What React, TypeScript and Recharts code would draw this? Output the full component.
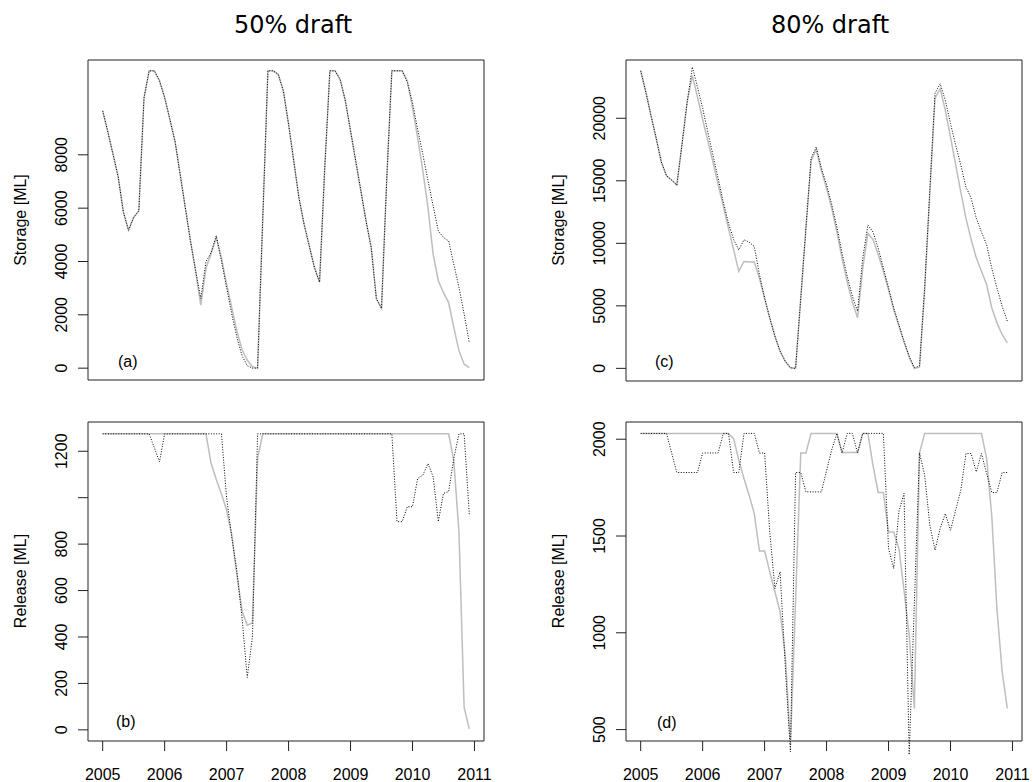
import { LineChart, Line, XAxis, YAxis, ReferenceArea } from 'recharts';

// monthly series, Jan 2005 .. Dec 2010
const START_YEAR = 2005;
const YEAR_TICKS = [2005, 2006, 2007, 2008, 2009, 2010, 2011];

// storage [ML], 50% draft
const STORAGE_50_GREY = [
    9650, 8860, 8020, 7180, 5860, 5170, 5650, 5900, 10130, 11150, 11150, 10780,
    10150, 9340, 8520, 7270, 6020, 4770, 3650, 2360, 3740, 4300, 4900, 4130,
    3150, 2260, 1380, 690, 300, 50, 0, 5600, 11150, 11150, 11020, 10390,
    9150, 7770, 6400, 5400, 4590, 3780, 3220, 7480, 11150, 11150, 10820, 10020,
    8900, 7770, 6650, 5520, 4530, 2610, 2240, 7040, 11150, 11150, 11150, 10780,
    9770, 8640, 7400, 6020, 4270, 3280, 2830, 2460, 1530, 650, 150, 20,
];
const STORAGE_50_DOTTED = [
    9650, 8860, 8020, 7180, 5860, 5170, 5650, 5900, 10130, 11150, 11150, 10780,
    10150, 9340, 8520, 7270, 6020, 4770, 3650, 2610, 3990, 4340, 4960, 4020,
    3020, 2030, 1150, 460, 90, 0, 0, 5600, 11150, 11150, 11020, 10390,
    9150, 7770, 6400, 5400, 4590, 3780, 3220, 7480, 11150, 11150, 10820, 10020,
    8900, 7770, 6650, 5520, 4530, 2610, 2240, 7040, 11150, 11150, 11150, 10710,
    9960, 8950, 8020, 7030, 6080, 5150, 4900, 4770, 3900, 3030, 2030, 960,
];

// release [ML], 50% draft
const RELEASE_50_GREY = [
    1275, 1275, 1275, 1275, 1275, 1275, 1275, 1275, 1275, 1275, 1275, 1275,
    1275, 1275, 1275, 1275, 1275, 1275, 1275, 1275, 1275, 1147, 1078, 1016,
    947, 840, 669, 511, 451, 461, 1169, 1275, 1275, 1275, 1275, 1275,
    1275, 1275, 1275, 1275, 1275, 1275, 1275, 1275, 1275, 1275, 1275, 1275,
    1275, 1275, 1275, 1275, 1275, 1275, 1275, 1275, 1275, 1275, 1275, 1275,
    1275, 1275, 1275, 1275, 1275, 1275, 1275, 1275, 1160, 850, 97, 4,
];
const RELEASE_50_DOTTED = [
    1275, 1275, 1275, 1275, 1275, 1275, 1275, 1275, 1275, 1275, 1215, 1155,
    1275, 1275, 1275, 1275, 1275, 1275, 1275, 1275, 1275, 1275, 1275, 1275,
    1000, 830, 680, 480, 226, 400, 1275, 1275, 1275, 1275, 1275, 1275,
    1275, 1275, 1275, 1275, 1275, 1275, 1275, 1275, 1275, 1275, 1275, 1275,
    1275, 1275, 1275, 1275, 1275, 1275, 1275, 1275, 1275, 897, 897, 961,
    961, 1083, 1097, 1147, 1090, 897, 1019, 1026, 1168, 1275, 1275, 929,
];

// storage [ML], 80% draft
const STORAGE_80_GREY = [
    23800, 22100, 20200, 18400, 16500, 15400, 15060, 14660, 17900, 21300, 23400, 21700,
    19900, 18200, 16500, 14700, 13000, 11200, 9500, 7750, 8550, 8500, 8500, 7200,
    5600, 4000, 2550, 1350, 550, 50, 0, 5600, 11200, 16600, 17500, 15800,
    14400, 12800, 10900, 8800, 6900, 5300, 4040, 8000, 10800, 10300, 9100, 7760,
    6300, 4700, 3400, 2100, 900, 0, 100, 6300, 14000, 21600, 22360, 20640,
    18500, 16300, 14100, 12000, 10300, 8820, 7760, 6700, 4830, 3640, 2710, 2040,
];
const STORAGE_80_DOTTED = [
    23800, 22100, 20200, 18400, 16500, 15400, 15060, 14660, 17900, 21300, 24100, 22500,
    20800, 18900, 17050, 15200, 13300, 11600, 10300, 9480, 10280, 10100, 9750, 7490,
    5630, 4040, 2580, 1380, 580, 50, 0, 5600, 11200, 16800, 17700, 16000,
    14700, 13100, 11300, 9220, 7360, 5760, 4570, 8800, 11470, 10900, 9620, 8020,
    6430, 4830, 3510, 2170, 980, 50, 190, 6500, 14300, 22000, 22760, 21430,
    19580, 17850, 16260, 14500, 13600, 12000, 10900, 9880, 8000, 6430, 4970, 3780,
];

// release [ML], 80% draft
const RELEASE_80_GREY = [
    2030, 2030, 2030, 2030, 2030, 2030, 2030, 2030, 2030, 2030, 2030, 2030,
    2030, 2030, 2030, 2030, 2030, 2030, 2003, 1892, 1797, 1711, 1616, 1422,
    1422, 1315, 1212, 1108, 885, 420, 1170, 1929, 1929, 2030, 2030, 2030,
    2030, 2030, 2030, 1931, 1931, 1931, 1931, 2030, 2030, 1864, 1725, 1725,
    1521, 1521, 1436, 1220, 988, 609, 1930, 2030, 2030, 2030, 2030, 2030,
    2030, 2030, 2030, 2030, 2030, 2030, 2030, 1900, 1600, 1120, 800, 610,
];
const RELEASE_80_DOTTED = [
    2030, 2030, 2030, 2030, 2030, 2030, 1929, 1828, 1828, 1828, 1828, 1828,
    1929, 1929, 1929, 1929, 2030, 2030, 1828, 1828, 2030, 2030, 2030, 1929,
    1929, 1520, 1229, 1315, 830, 385, 1828, 1828, 1728, 1728, 1728, 1728,
    1838, 1945, 2030, 1929, 2030, 2030, 1929, 2030, 2030, 2030, 2030, 2030,
    1436, 1332, 1625, 1720, 370, 1150, 1930, 1814, 1556, 1427, 1539, 1616,
    1530, 1633, 1737, 1926, 1926, 1831, 1926, 1822, 1725, 1725, 1828, 1828,
];

const STORAGE_50_TICKS = [0, 2000, 4000, 6000, 8000];
const RELEASE_50_TICKS = [0, 200, 400, 600, 800, 1000, 1200];
const STORAGE_80_TICKS = [0, 5000, 10000, 15000, 20000];
const RELEASE_80_TICKS = [500, 1000, 1500, 2000];

const X_DOMAIN = [2004.763, 2011.154];
const AXIS_FONT = '"Liberation Sans", Arial, Helvetica, sans-serif';

const buildRows = (grey: number[], dotted: number[]) =>
    grey.map((g, i) => ({ t: START_YEAR + i / 12, grey: g, dotted: dotted[i] }));

type Box = { x: number; y: number; w: number; h: number };

function Panel({ box, grey, dotted, domain, ticks, skipLabels = [], showYears, overflow = 0 }: {
    box: Box;
    grey: number[];
    dotted: number[];
    domain: number[];
    ticks: number[];
    skipLabels?: number[];
    showYears: boolean;
    overflow?: number;
}) {
    const rows = buildRows(grey, dotted);
    const boxBottom = 10 + box.h;
    // lines may run a little below the frame, as in the original
    const yMin = domain[0] - (overflow * (domain[1] - domain[0])) / box.h;
    const xAxisH = showYears ? 42 - overflow : 0;

    return (
        <div style={{ position: 'absolute', left: box.x - 80, top: box.y - 10 }}>
            <LineChart
                width={box.w + 90}
                height={10 + box.h + overflow + (showYears ? xAxisH : 10)}
                data={rows}
                margin={{ top: 10, right: 10, left: 0, bottom: showYears ? 0 : 10 }}
            >
                <XAxis
                    type="number"
                    dataKey="t"
                    domain={X_DOMAIN}
                    allowDataOverflow
                    ticks={YEAR_TICKS}
                    interval={0}
                    hide={!showYears}
                    height={xAxisH}
                    axisLine={false}
                    tickLine={false}
                    tick={(p: any) => (
                        <g>
                            <line x1={p.x} x2={p.x} y1={boxBottom} y2={boxBottom + 10} stroke="#222" />
                            <text
                                x={p.x}
                                y={boxBottom + 39}
                                textAnchor="middle"
                                fontSize={16}
                                fontFamily={AXIS_FONT}
                                fill="#000"
                            >
                                {p.payload.value}
                            </text>
                        </g>
                    )}
                />
                <YAxis
                    type="number"
                    domain={[yMin, domain[1]]}
                    allowDataOverflow
                    ticks={ticks}
                    interval={0}
                    width={80}
                    axisLine={false}
                    tickSize={10}
                    stroke="#222"
                    tick={(p: any) => (
                        <text
                            x={54}
                            y={p.y}
                            transform={`rotate(-90 54 ${p.y})`}
                            textAnchor="middle"
                            dominantBaseline="central"
                            fontSize={16}
                            fontFamily={AXIS_FONT}
                            fill="#000"
                        >
                            {skipLabels.includes(p.payload.value) ? '' : p.payload.value}
                        </text>
                    )}
                />
                <Line
                    type="linear"
                    dataKey="grey"
                    stroke="#bebebe"
                    strokeWidth={1.5}
                    dot={false}
                    isAnimationActive={false}
                />
                <Line
                    type="linear"
                    dataKey="dotted"
                    stroke="#000"
                    strokeWidth={1}
                    strokeDasharray="1 1.6"
                    dot={false}
                    isAnimationActive={false}
                />
                {/* plot frame */}
                <ReferenceArea
                    x1={X_DOMAIN[0]}
                    x2={X_DOMAIN[1]}
                    y1={domain[0]}
                    y2={domain[1]}
                    fill="none"
                    fillOpacity={0}
                    stroke="#222"
                    strokeWidth={1}
                    ifOverflow="visible"
                />
            </LineChart>
        </div>
    );
}

const BOX_A = { x: 88, y: 60, w: 396, h: 320 };
const BOX_B = { x: 88, y: 422, w: 396, h: 319 };
const BOX_C = { x: 626, y: 60, w: 396, h: 321 };
const BOX_D = { x: 626, y: 422, w: 396, h: 319 };

export default function App() {
    const label = { fontFamily: AXIS_FONT, fontSize: 16, fill: '#000' };
    const yTitle = (x: number, y: number, text: string) => (
        <text {...label} x={x} y={y} textAnchor="middle" dominantBaseline="central" transform={`rotate(-90 ${x} ${y})`}>
            {text}
        </text>
    );

    return (
        <div style={{ position: 'absolute', left: 0, top: 0, width: 1033, height: 782, background: '#fff' }}>
            <Panel box={BOX_A} grey={STORAGE_50_GREY} dotted={STORAGE_50_DOTTED} domain={[-444, 11556]} ticks={STORAGE_50_TICKS} showYears={false} />
            <Panel box={BOX_B} grey={RELEASE_50_GREY} dotted={RELEASE_50_DOTTED} domain={[-48, 1326]} ticks={RELEASE_50_TICKS} skipLabels={[1000]} showYears />
            <Panel box={BOX_C} grey={STORAGE_80_GREY} dotted={STORAGE_80_DOTTED} domain={[-1010, 24660]} ticks={STORAGE_80_TICKS} showYears={false} />
            <Panel box={BOX_D} grey={RELEASE_80_GREY} dotted={RELEASE_80_DOTTED} domain={[441, 2089]} ticks={RELEASE_80_TICKS} showYears overflow={18} />

            {/* titles, axis titles and panel tags */}
            <svg width={1033} height={782} style={{ position: 'absolute', left: 0, top: 0, pointerEvents: 'none' }}>
                <text x={293} y={33} textAnchor="middle" fontFamily='"DejaVu Sans", sans-serif' fontSize={24} fill="#000">50% draft</text>
                <text x={830} y={33} textAnchor="middle" fontFamily='"DejaVu Sans", sans-serif' fontSize={24} fill="#000">80% draft</text>
                {yTitle(20, 220, 'Storage [ML]')}
                {yTitle(20, 581, 'Release [ML]')}
                {yTitle(558, 220, 'Storage [ML]')}
                {yTitle(558, 581, 'Release [ML]')}
                <text {...label} x={118} y={367}>(a)</text>
                <text {...label} x={116} y={727}>(b)</text>
                <text {...label} x={655} y={367}>(c)</text>
                <text {...label} x={657} y={728}>(d)</text>
            </svg>
        </div>
    );
}
